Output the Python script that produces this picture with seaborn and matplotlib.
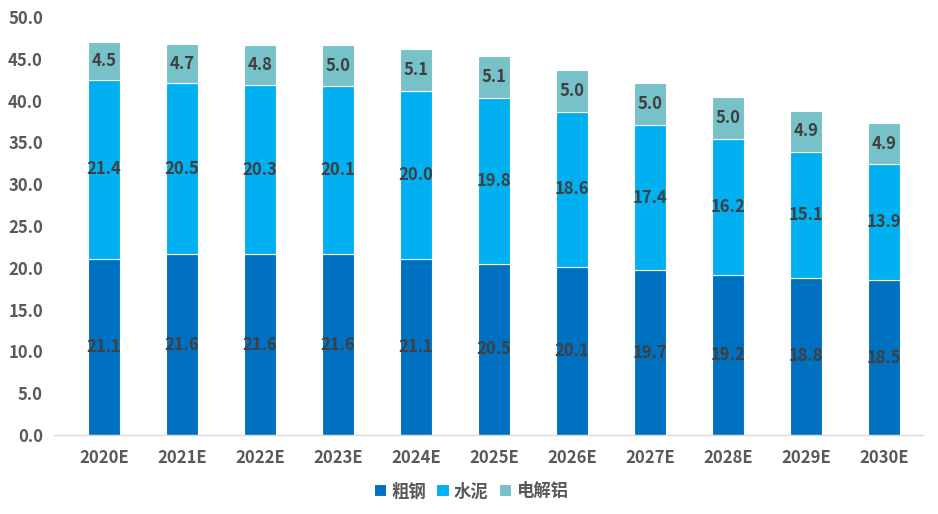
import matplotlib
matplotlib.use("Agg")
import matplotlib.pyplot as plt
import seaborn as sns
import pandas as pd
import numpy as np

years = ["2020E", "2021E", "2022E", "2023E", "2024E", "2025E", "2026E", "2027E", "2028E", "2029E", "2030E"]
steel = [21.1, 21.6, 21.6, 21.6, 21.1, 20.5, 20.1, 19.7, 19.2, 18.8, 18.5]
cement = [21.4, 20.5, 20.3, 20.1, 20.0, 19.8, 18.6, 17.4, 16.2, 15.1, 13.9]
aluminum = [4.5, 4.7, 4.8, 5.0, 5.1, 5.1, 5.0, 5.0, 5.0, 4.9, 4.9]
series_names = ["粗钢", "水泥", "电解铝"]

sns.set_theme(style="white")
plt.rcParams['font.family'] = ['Noto Sans CJK SC', 'DejaVu Sans']

colors = ["#0070C0", "#00B0F0", "#77C2C8"]

fig = plt.figure(figsize=(9.38, 5.14), dpi=100)
ax = fig.add_axes([0.0576, 0.1537, 0.9264, 0.813])

df = pd.DataFrame({"year": years, "steel": steel, "cement": cement, "aluminum": aluminum})
bottoms = np.zeros(len(years))
for col, name, c in zip(["steel", "cement", "aluminum"], series_names, colors):
    sns.barplot(data=df, x="year", y=col, bottom=bottoms, color=c, width=0.41,
                edgecolor="white", linewidth=0.8, label=name, ax=ax, saturation=1)
    bottoms = bottoms + df[col].values

for cont in ax.containers:
    ax.bar_label(cont, fmt="%.1f", label_type="center", fontsize=12,
                 fontweight="bold", color="#404040")

ax.set_ylim(0, 50)
ax.set_yticks(np.arange(0, 50.1, 5))
ax.set_yticklabels([f"{v:.1f}" for v in np.arange(0, 50.1, 5)])
ax.set_xlim(-0.64, len(years) - 0.5)
ax.set_xlabel("")
ax.set_ylabel("")
for s in ["top", "right", "left"]:
    ax.spines[s].set_visible(False)
ax.spines["bottom"].set_color("#D9D9D9")
ax.spines["bottom"].set_linewidth(1)
ax.tick_params(axis="both", length=0, labelsize=12, labelcolor="#595959")
ax.tick_params(axis="x", pad=10)
ax.tick_params(axis="y", pad=8)
for lab in ax.get_xticklabels() + ax.get_yticklabels():
    lab.set_fontweight("bold")

handles, labels = ax.get_legend_handles_labels()
leg = ax.legend(handles, labels, loc="center", bbox_to_anchor=(0.48, -0.135),
                ncol=3, frameon=False, handlelength=0.7, handleheight=0.7,
                handletextpad=0.3, columnspacing=0.6,
                prop={"family": ["Noto Sans CJK SC", "DejaVu Sans"], "weight": "bold", "size": 12.5})
for t in leg.get_texts():
    t.set_color("#595959")

fig.savefig("out.png", dpi=100)
